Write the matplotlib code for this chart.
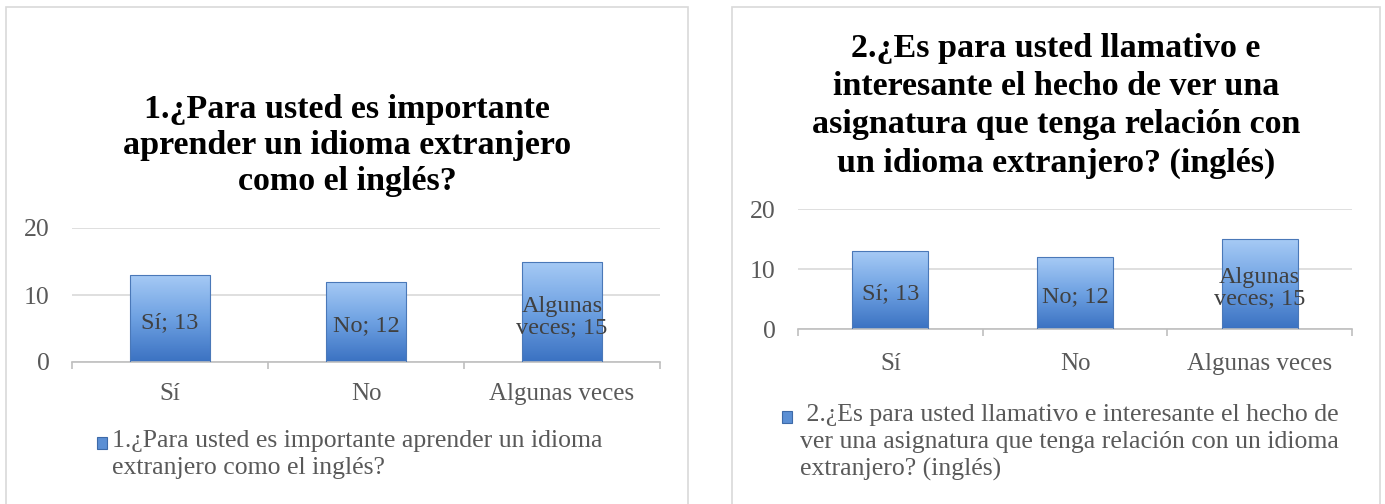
import numpy as np
import matplotlib
matplotlib.use("Agg")
import matplotlib.pyplot as plt
from matplotlib.patches import Rectangle
from matplotlib.colors import LinearSegmentedColormap

plt.rcParams['font.family'] = ['Liberation Serif', 'DejaVu Serif']

categories = ["Sí", "No", "Algunas veces"]
bar_labels = ["Sí; 13", "No; 12", "Algunas\nveces; 15"]
values_q1 = [13, 12, 15]
values_q2 = [13, 12, 15]
yticks = [0, 10, 20]

title_q1 = "1.¿Para usted es importante\naprender un idioma extranjero\ncomo el inglés?"
legend_q1 = "1.¿Para usted es importante aprender un idioma\nextranjero como el inglés?"
title_q2 = ("2.¿Es para usted llamativo e\ninteresante el hecho de ver una\n"
            "asignatura que tenga relación con\nun idioma extranjero? (inglés)")
legend_q2 = (" 2.¿Es para usted llamativo e interesante el hecho de\n"
             "ver una asignatura que tenga relación con un idioma\nextranjero? (inglés)")

W, H = 1385, 504
fig = plt.figure(figsize=(W / 100, H / 100), dpi=100)
fig.patch.set_facecolor("white")

grad = LinearSegmentedColormap.from_list("g", ["#3b72c2", "#6ea1e2", "#a6caf5"])
txt_dark = "#404040"
txt_gray = "#595959"


def px(x0, y0, x1, y1):
    return [x0 / W, 1 - y1 / H, (x1 - x0) / W, (y1 - y0) / H]


def draw_panel(rect, vals, title, title_y, title_ls, leg, leg_xy, box, xpad):
    # panel frame
    bx0, by0, bx1 = box
    fig.patches.append(Rectangle((bx0 / W, -0.01), (bx1 - bx0) / W, 1 - by0 / H + 0.01,
                                 transform=fig.transFigure, fill=False,
                                 edgecolor="#d9d9d9", lw=1.2))
    ax = fig.add_axes(rect)
    x = np.arange(len(vals))
    bars = ax.bar(x, vals, width=0.41, color="none", edgecolor="#4a78b8", lw=0.8, zorder=3)
    g = np.linspace(0, 1, 100).reshape(-1, 1)
    for b, lab in zip(bars, bar_labels):
        bx, bw, bh = b.get_x(), b.get_width(), b.get_height()
        im = ax.imshow(g, cmap=grad, aspect="auto", origin="lower",
                       extent=[bx, bx + bw, 0, bh], zorder=2)
        im.set_clip_path(b)
        ax.text(bx + bw / 2, bh * 0.45, lab, ha="center", va="center",
                fontsize=17.5, color=txt_dark, zorder=4, linespacing=1.0)
    ax.set_xlim(-0.5, len(vals) - 0.5)
    ax.set_ylim(0, 20)
    ax.set_yticks(yticks)
    ax.set_xticks(x)
    ax.set_xticklabels(categories)
    ax.set_xticks(np.arange(len(vals) + 1) - 0.5, minor=True)
    ax.tick_params(axis="x", which="major", length=0, pad=xpad, labelsize=18, labelcolor=txt_gray)
    ax.tick_params(axis="x", which="minor", length=5, color="#bfbfbf", width=1.2)
    ax.tick_params(axis="y", length=0, pad=16, labelsize=18.5, labelcolor=txt_gray)
    ax.yaxis.grid(True, color="#d9d9d9", lw=1.2, zorder=0)
    ax.set_axisbelow(True)
    for s in ["top", "right", "left"]:
        ax.spines[s].set_visible(False)
    ax.spines["bottom"].set_color("#bfbfbf")
    ax.spines["bottom"].set_linewidth(1.2)

    fig.text((bx0 + bx1) / 2 / W, 1 - title_y / H, title, ha="center", va="top",
             fontsize=24.5, fontweight="bold", color="black", linespacing=title_ls)
    # legend
    lx, ly, sx = leg_xy
    sq = Rectangle((sx / W, 1 - (ly + 19) / H), 10 / W, 12 / H,
                   transform=fig.transFigure, facecolor="#5b8fd4", edgecolor="#3d6aa8", lw=0.8)
    fig.patches.append(sq)
    fig.text(lx / W, 1 - ly / H, leg, ha="left", va="top", fontsize=18.5,
             color=txt_gray, linespacing=1.3)
    return ax


draw_panel(px(72, 228, 660, 362), values_q1, title_q1, 94, 1.2, legend_q1,
           (112, 430, 97), (6, 7, 688), 15)
draw_panel(px(798, 209, 1352, 329), values_q2, title_q2, 33, 1.3, legend_q2,
           (800, 404, 782), (732, 7, 1380), 17)

fig.savefig("out.png", dpi=100, facecolor="white")
